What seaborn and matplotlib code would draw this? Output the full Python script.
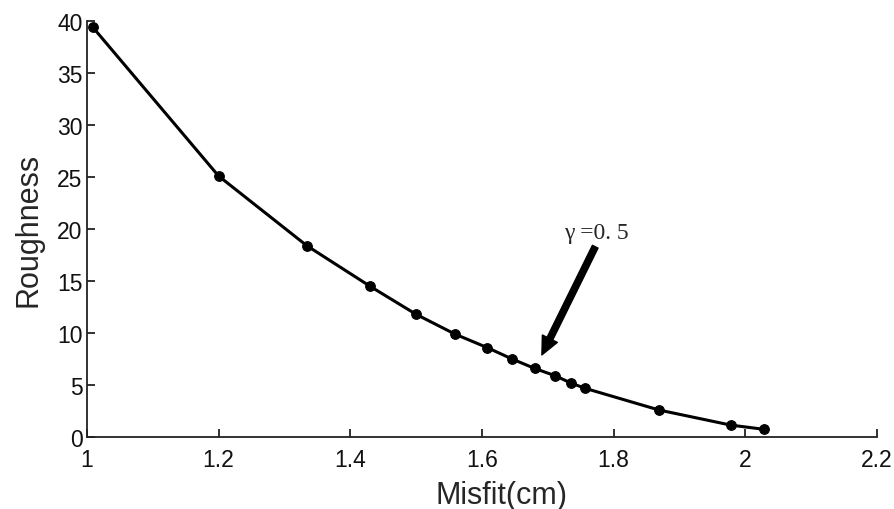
import numpy as np
import pandas as pd
import matplotlib
matplotlib.use('Agg')
import matplotlib.pyplot as plt
import seaborn as sns

sns.set_style("ticks")
plt.rcParams['font.family'] = ['Liberation Sans', 'DejaVu Sans']

# values
misfit = [1.009, 1.20, 1.334, 1.43, 1.50, 1.559, 1.608, 1.646, 1.68, 1.711, 1.735, 1.756, 1.869, 1.978, 2.028]
roughness = [39.4, 25.1, 18.4, 14.5, 11.8, 9.9, 8.6, 7.5, 6.6, 5.9, 5.2, 4.7, 2.6, 1.15, 0.75]
x_ticks = [1, 1.2, 1.4, 1.6, 1.8, 2, 2.2]
x_labels = ['1', '1.2', '1.4', '1.6', '1.8', '2', '2.2']
y_ticks = [0, 5, 10, 15, 20, 25, 30, 35, 40]

df = pd.DataFrame({'Misfit': misfit, 'Roughness': roughness})

fig = plt.figure(figsize=(8.95, 5.10), dpi=100)
ax = fig.add_axes([0.097, 0.141, 0.883, 0.816])

sns.lineplot(data=df, x='Misfit', y='Roughness', sort=False, color='black',
             linewidth=2.2, marker='o', markersize=7, markeredgecolor='black', ax=ax)

ax.set_xlim(1, 2.2)
ax.set_ylim(0, 40)
ax.set_xticks(x_ticks)
ax.set_xticklabels(x_labels)
ax.set_yticks(y_ticks)
ax.tick_params(direction='in', length=6, width=1.2, labelsize=16.5, colors='#111111')
ax.tick_params(axis='x', pad=8)
ax.tick_params(axis='y', pad=3)
for s in ['left', 'bottom']:
    ax.spines[s].set_linewidth(1.3)
    ax.spines[s].set_color('#222222')
sns.despine(ax=ax)

ax.set_xlabel('Misfit(cm)', fontsize=22, labelpad=6, x=0.525)
ax.set_ylabel('Roughness', fontsize=22, labelpad=10)

# gamma annotation
ax.annotate('', xy=(1.691, 7.9), xytext=(1.772, 18.3),
            arrowprops=dict(width=4.5, headwidth=12, headlength=13, color='black', shrink=0))
ax.text(1.774, 19.1, 'γ =0. 5', fontsize=17, ha='center', va='baseline',
        family=['Liberation Serif', 'DejaVu Serif'])

fig.savefig('out.png', dpi=100)
